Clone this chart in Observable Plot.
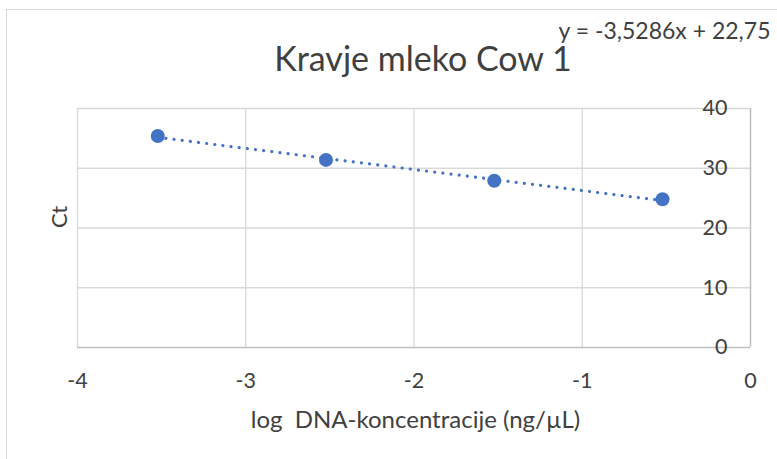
<!DOCTYPE html>
<html>
<head>
<meta charset="utf-8">
<script src="https://cdn.jsdelivr.net/npm/d3@7"></script>
<script src="https://cdn.jsdelivr.net/npm/@observablehq/plot@0.6"></script>
<style>
  html, body { margin: 0; padding: 0; background: #fff; }
  #wrap { position: relative; width: 777px; height: 459px; overflow: hidden; }
  #frame { position: absolute; left: 6px; top: 9px; width: 900px; height: 600px;
           border-left: 1.5px solid #d9d9d9; border-top: 1.5px solid #d9d9d9; }
  #chart { position: absolute; left: 0; top: 0; }
  svg text { white-space: pre; }
</style>
</head>
<body>
<div id="wrap"><div id="frame"></div><div id="chart"></div></div>
<script>
const logConc = [-3.523, -2.523, -1.523, -0.523];
const ctValues = [35.4, 31.4, 27.9, 24.8];
const xTicks = [-4, -3, -2, -1, 0];
const yTicks = [0, 10, 20, 30, 40];
const titleText = "Kravje mleko Cow 1";
const equationText = "y = -3,5286x + 22,75";
const xLabel = "log  DNA-koncentracije (ng/µL)";
const yLabel = "Ct";

const data = logConc.map((x, i) => ({x, y: ctValues[i]}));
const blue = "#4472C4";
const textColor = "#404040";
const font = "Lato, 'Open Sans', sans-serif";

const chart = Plot.plot({
  width: 777,
  height: 459,
  marginLeft: 77,
  marginRight: 27,
  marginTop: 108,
  marginBottom: 112,
  x: {domain: [-4, 0]},
  y: {domain: [0, 40]},
  style: {fontFamily: font, color: textColor, background: "transparent", overflow: "visible"},
  marks: [
    Plot.gridX(xTicks.filter(d => d !== 0), {stroke: "#d9d9d9", strokeOpacity: 1, strokeWidth: 1.3}),
    Plot.gridY(yTicks.filter(d => d !== 0), {stroke: "#d9d9d9", strokeOpacity: 1, strokeWidth: 1.3}),
    Plot.ruleY([0], {stroke: "#bfbfbf", strokeWidth: 1.5}),
    Plot.ruleX([0], {stroke: "#bfbfbf", strokeWidth: 1.5}),
    Plot.axisX({ticks: xTicks, tickSize: 0, tickPadding: 25, fontSize: 21.5, label: null,
                tickFormat: d => String(d), fill: textColor}),
    Plot.axisY({ticks: yTicks, anchor: "right", tickSize: 0, tickPadding: 0, dx: -23,
                textAnchor: "end", fontSize: 21.5, label: null, tickFormat: d => String(d), fill: textColor}),
    Plot.linearRegressionY(data, {x: "x", y: "y", ci: 0, stroke: blue, strokeWidth: 3.2,
                strokeDasharray: "0.01 8.2", strokeLinecap: "round"}),
    Plot.dot(data, {x: "x", y: "y", r: 7, fill: blue, stroke: "none"}),
    Plot.text([titleText], {frameAnchor: "top", lineAnchor: "middle", dx: 9, dy: -48, fontSize: 34, fill: textColor}),
    Plot.text([equationText], {frameAnchor: "top-right", lineAnchor: "middle", textAnchor: "end", dx: 20, dy: -77, fontSize: 23, fill: textColor}),
    Plot.text([xLabel], {frameAnchor: "bottom", lineAnchor: "middle", dx: 1.5, dy: 73, fontSize: 24, fill: textColor}),
    Plot.text([yLabel], {frameAnchor: "left", lineAnchor: "middle", dx: -18, rotate: -90, fontSize: 22, fill: textColor})
  ]
});
document.getElementById("chart").appendChild(chart);
</script>
</body>
</html>
